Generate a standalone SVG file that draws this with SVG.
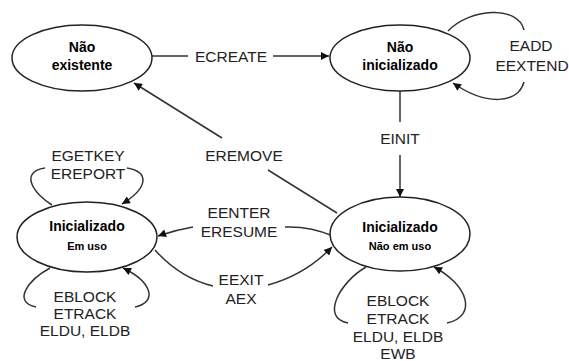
<svg xmlns="http://www.w3.org/2000/svg" width="569" height="361" viewBox="0 0 569 361">
  <style>
    .state ellipse { fill: #fff; stroke: #222; stroke-width: 1.5; }
    .state text { font-family: "Liberation Sans", Arial, sans-serif; font-weight: bold; fill: #000; text-anchor: middle; }
    .title { font-size: 14px; }
    .sub { font-size: 11px; }
    .edges path { fill: none; stroke: #333; stroke-width: 1.5; }
    .lbl { font-family: "Liberation Sans", Arial, sans-serif; font-size: 15.5px; fill: #222; text-anchor: middle; }
  </style>
  <defs>
    <marker id="arrow" viewBox="0 0 10 10" refX="10" refY="5" markerWidth="9" markerHeight="8" orient="auto" markerUnits="userSpaceOnUse">
      <path d="M0,0 L10,5 L0,10 z" fill="#111"/>
    </marker>
  </defs>

  <rect width="569" height="361" fill="#fff"/>

  <!-- transitions -->
  <g id="connectors" class="edges">
    <!-- ECREATE -->
    <path d="M152 56 H188"/>
    <path d="M273 56 H329" marker-end="url(#arrow)"/>
    <!-- EADD / EEXTEND self loop -->
    <path d="M448 31 C470 8, 518 5, 524 30"/>
    <path d="M524 82 C518 104, 486 106, 453 83" marker-end="url(#arrow)"/>
    <!-- EINIT -->
    <path d="M400 91 V122"/>
    <path d="M400 155 V197" marker-end="url(#arrow)"/>
    <!-- EREMOVE -->
    <path d="M337 213 L268 170"/>
    <path d="M222 138 L134 83" marker-end="url(#arrow)"/>
    <!-- EENTER / ERESUME -->
    <path d="M333 236 Q310 226 285 227"/>
    <path d="M193 227 Q175 230 158 236" marker-end="url(#arrow)"/>
    <!-- EEXIT / AEX -->
    <path d="M155 250 Q180 278 213 286"/>
    <path d="M268 285 Q305 275 332 247" marker-end="url(#arrow)"/>
    <!-- EGETKEY / EREPORT self loop -->
    <path d="M52 205 C35 195, 18 172, 45 168"/>
    <path d="M127 168 C150 172, 148 188, 122 204" marker-end="url(#arrow)"/>
    <!-- in-use self loop -->
    <path d="M50 268 C28 280, 12 302, 36 307"/>
    <path d="M135 307 C158 302, 152 282, 123 268" marker-end="url(#arrow)"/>
    <!-- not-in-use self loop -->
    <path d="M366 267 C340 282, 320 318, 348 323"/>
    <path d="M447 323 C478 316, 468 285, 434 267" marker-end="url(#arrow)"/>
  </g>

  <!-- transition labels -->
  <g id="labels">
    <text class="lbl" x="231" y="62">ECREATE</text>
    <text class="lbl" x="531" y="51">EADD</text>
    <text class="lbl" x="532" y="71">EEXTEND</text>
    <text class="lbl" x="400" y="144">EINIT</text>
    <text class="lbl" x="244" y="161">EREMOVE</text>
    <text class="lbl" x="239" y="218">EENTER</text>
    <text class="lbl" x="239" y="237">ERESUME</text>
    <text class="lbl" x="241" y="285">EEXIT</text>
    <text class="lbl" x="241" y="304">AEX</text>
    <text class="lbl" x="88" y="161">EGETKEY</text>
    <text class="lbl" x="88" y="179">EREPORT</text>
    <text class="lbl" x="85" y="302">EBLOCK</text>
    <text class="lbl" x="85" y="319">ETRACK</text>
    <text class="lbl" x="85" y="336">ELDU, ELDB</text>
    <text class="lbl" x="398" y="306">EBLOCK</text>
    <text class="lbl" x="398" y="324">ETRACK</text>
    <text class="lbl" x="398" y="342">ELDU, ELDB</text>
    <text class="lbl" x="398" y="359">EWB</text>
  </g>

  <!-- states -->
  <g id="nao-existente" class="state">
    <ellipse cx="82" cy="58" rx="70" ry="33"/>
    <text class="title" x="82" y="52">Não</text>
    <text class="title" x="82" y="70">existente</text>
  </g>
  <g id="nao-inicializado" class="state">
    <ellipse cx="400" cy="58" rx="70" ry="33"/>
    <text class="title" x="400" y="52">Não</text>
    <text class="title" x="400" y="70">inicializado</text>
  </g>
  <g id="inicializado-em-uso" class="state">
    <ellipse cx="87" cy="237" rx="70" ry="35"/>
    <text class="title" x="87" y="231">Inicializado</text>
    <text class="sub" x="87" y="250">Em uso</text>
  </g>
  <g id="inicializado-nao-em-uso" class="state">
    <ellipse cx="400" cy="234" rx="70" ry="37"/>
    <text class="title" x="400" y="232">Inicializado</text>
    <text class="sub" x="400" y="250">Não em uso</text>
  </g>
</svg>
